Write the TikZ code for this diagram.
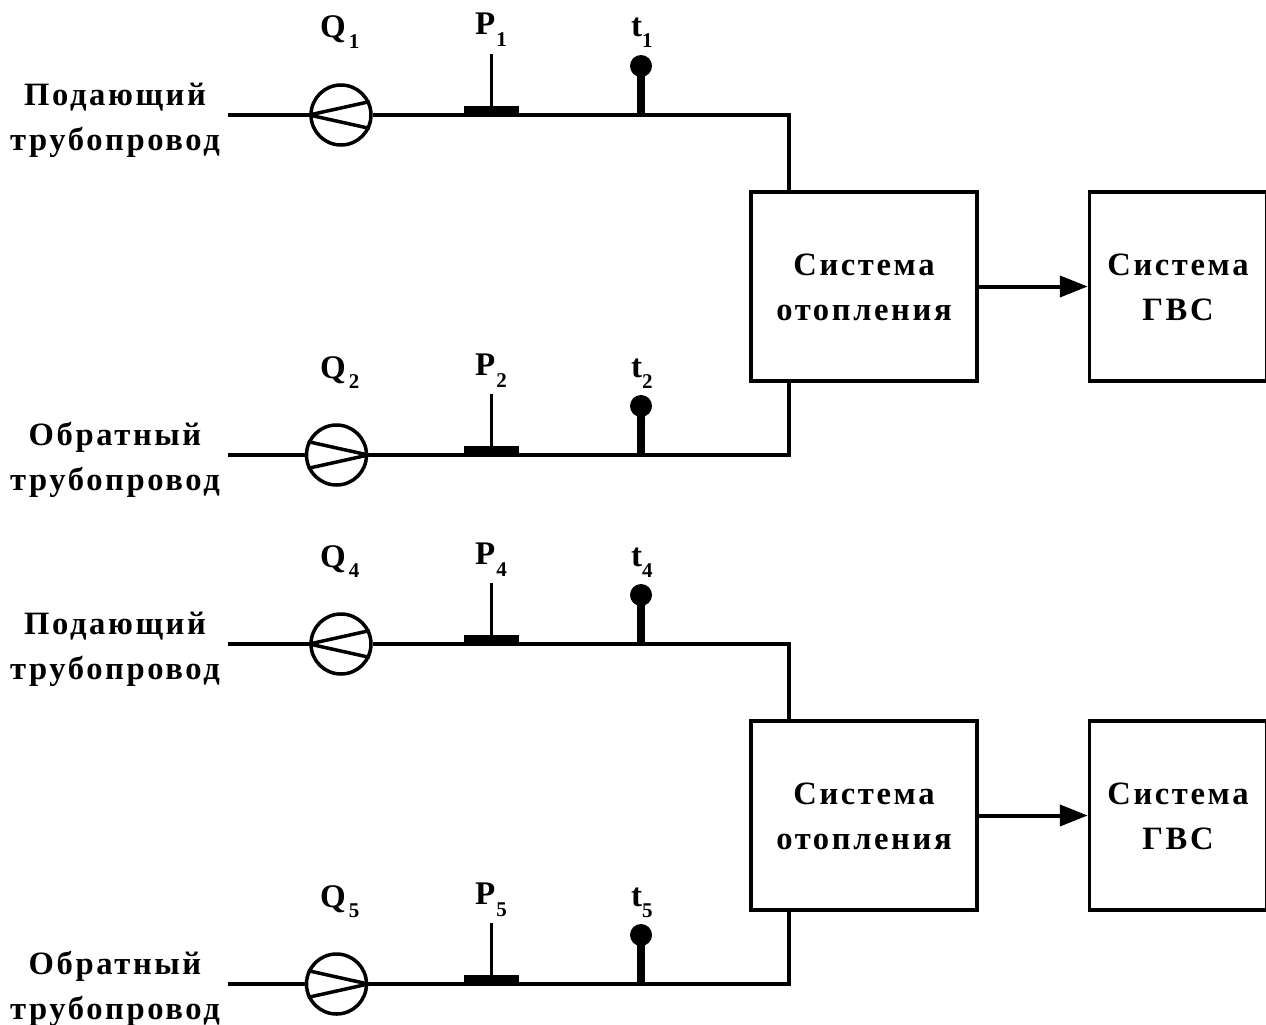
\documentclass[tikz,border=0pt]{standalone}
\usepackage{fontspec}
\setmainfont{Liberation Serif}[LetterSpace=8]
\newfontfamily\symfont{Liberation Serif}
\usetikzlibrary{arrows.meta}
\tikzset{
  pipe/.style={line width=3.5pt,line cap=butt,line join=miter},
  block/.style={draw,line width=3.5pt,inner sep=0pt,align=center,font=\fontsize{32.6}{45}\selectfont\bfseries},
  pumpc/.style={draw,circle,line width=3.5pt,minimum size=60pt,inner sep=0pt},
  lbl/.style={inner sep=0pt,anchor=base,font=\fontsize{32.6}{33}\selectfont\bfseries},
  sym/.style={inner sep=0pt,anchor=base west,font=\symfont\fontsize{33}{33}\selectfont\bfseries},
  pbar/.style={fill,inner sep=0pt,minimum width=55pt,minimum height=10pt},
  ball/.style={fill,circle,inner sep=0pt,minimum size=22pt},
  flow/.style={line width=4pt,-{Triangle[length=28pt,width=21pt]}}
}
% symbol, kern before the index, drop of the index, index
\newcommand{\symb}[4]{#1\kern#2pt\raisebox{-#3pt}{\fontsize{21}{21}\selectfont #4}}
\newcommand{\blocktop}{\rule{0pt}{24pt}}
% #1 pump x, #2 pipe y, #3 first-text, #4 index
\newcommand{\pipeline}[4]{%
  \node[lbl] (txa) at (115,#2-10) {#3};
  \node[lbl] (txb) at (115,#2+35) {трубопровод};
  \coordinate (in) at (228,#2);
  \coordinate (elbow) at (789,#2);
  \node[pumpc] (pump) at (#1,#2) {};
  \node[pbar,above=0pt] (bar) at (491.5,#2+1) {};
  \coordinate (ptop) at (491.5,#2-61);
  \node[ball] (tball) at (641,#2-49) {};
  \coordinate (tfoot) at (641,#2);
  \node[sym] (q) at (320,#2-77) {\symb{Q}{3}{10}{#4}};
  \node[sym] (p) at (475,#2-80) {\symb{P}{1}{12}{#4}};
  \node[sym] (t) at (631,#2-78) {\symb{t}{0}{11}{#4}};
  \draw[pipe] (in) -- (pump);
  \draw[pipe] (ptop) -- (bar.north);
  \draw[line width=7.5pt] (tball.center) -- (tfoot);
}
\begin{document}
\begin{tikzpicture}[x=1pt,y=-1pt]
\useasboundingbox (0,0) rectangle (1266,1025);
\fill[white] (0,0) rectangle (1266,1025);
\foreach \pre/\dy/\a/\b in {u/0/1/2,v/529/4/5}{
\begin{scope}[yshift=-\dy pt,name prefix=\pre-]
  \pipeline{341}{115}{Подающий}{\a}
  \draw[pipe] (pump.west) -- (pump.25) (pump.west) -- (pump.-25);
\begin{scope}[name prefix=\pre r-]
  \pipeline{336.5}{455}{Обратный}{\b}
  \draw[pipe] (pump.east) -- (pump.155) (pump.east) -- (pump.205);
\end{scope}
  \node[block,minimum width=226pt,minimum height=189pt] (sys) at (864,286.5) {\blocktop Система\\отопления};
  \node[block,minimum width=177pt,minimum height=189pt] (gvs) at (1178,286.5) {\blocktop Система\\ГВС};
  \draw[pipe] (pump) -- (elbow) -- (elbow |- sys.north);
  \draw[pipe] (\pre r-pump) -- (\pre r-elbow) -- (\pre r-elbow |- sys.south);
  \draw[flow] (sys) -- (gvs);
\end{scope}
}
\end{tikzpicture}
\end{document}
